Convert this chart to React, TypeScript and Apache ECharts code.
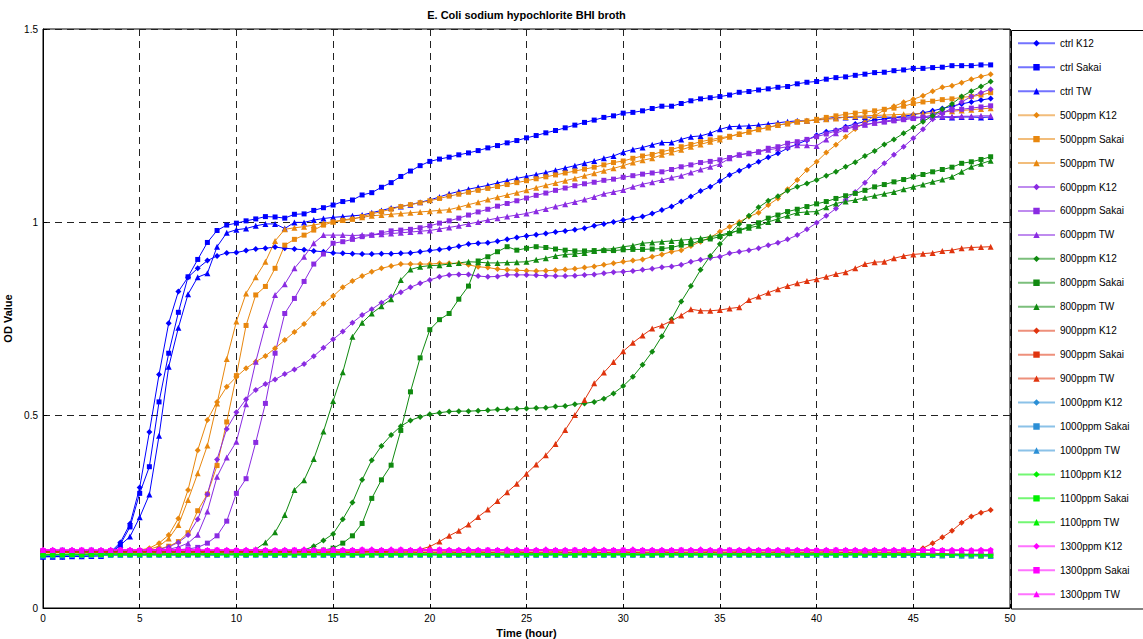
import React, { useEffect, useRef } from 'react';
import * as echarts from 'echarts';

const TIMES = [
  0, 0.5, 1, 1.5, 2, 2.5, 3, 3.5, 4, 4.5,
  5, 5.5, 6, 6.5, 7, 7.5, 8, 8.5, 9, 9.5,
  10, 10.5, 11, 11.5, 12, 12.5, 13, 13.5, 14, 14.5,
  15, 15.5, 16, 16.5, 17, 17.5, 18, 18.5, 19, 19.5,
  20, 20.5, 21, 21.5, 22, 22.5, 23, 23.5, 24, 24.5,
  25, 25.5, 26, 26.5, 27, 27.5, 28, 28.5, 29, 29.5,
  30, 30.5, 31, 31.5, 32, 32.5, 33, 33.5, 34, 34.5,
  35, 35.5, 36, 36.5, 37, 37.5, 38, 38.5, 39, 39.5,
  40, 40.5, 41, 41.5, 42, 42.5, 43, 43.5, 44, 44.5,
  45, 45.5, 46, 46.5, 47, 47.5, 48, 48.5, 49,
];

const CTRL_K12 = [
  0.133, 0.134, 0.133, 0.135, 0.134, 0.135, 0.136, 0.145, 0.17, 0.218,
  0.312, 0.456, 0.605, 0.738, 0.82, 0.857, 0.88, 0.9, 0.912, 0.92,
  0.921, 0.926, 0.93, 0.932, 0.935, 0.932, 0.93, 0.928, 0.925, 0.923,
  0.92, 0.919, 0.918, 0.917, 0.917, 0.918, 0.918, 0.919, 0.92, 0.923,
  0.926, 0.929, 0.932, 0.937, 0.943, 0.945, 0.946, 0.95, 0.955, 0.96,
  0.964, 0.967, 0.97, 0.974, 0.977, 0.98, 0.984, 0.99, 0.995, 1.0,
  1.005, 1.01, 1.014, 1.022, 1.031, 1.04, 1.053, 1.066, 1.08, 1.091,
  1.106, 1.122, 1.133, 1.145, 1.156, 1.168, 1.178, 1.191, 1.202, 1.212,
  1.225, 1.234, 1.238, 1.247, 1.254, 1.26, 1.264, 1.267, 1.27, 1.274,
  1.278, 1.283, 1.288, 1.294, 1.3, 1.306, 1.311, 1.316, 1.32,
];
const CTRL_SAKAI = [
  0.133, 0.133, 0.134, 0.134, 0.135, 0.135, 0.136, 0.142, 0.165, 0.21,
  0.297, 0.366, 0.534, 0.66, 0.766, 0.858, 0.903, 0.947, 0.978, 0.992,
  0.997, 1.003, 1.008, 1.014, 1.013, 1.01, 1.02, 1.021, 1.03, 1.037,
  1.044, 1.053, 1.057, 1.07, 1.076, 1.09, 1.102, 1.118, 1.132, 1.146,
  1.157, 1.163, 1.168, 1.174, 1.179, 1.185, 1.192, 1.198, 1.205, 1.211,
  1.218, 1.224, 1.231, 1.237, 1.244, 1.251, 1.258, 1.264, 1.271, 1.275,
  1.282, 1.284, 1.288, 1.294, 1.3, 1.3, 1.307, 1.314, 1.319, 1.322,
  1.325, 1.329, 1.336, 1.338, 1.342, 1.345, 1.349, 1.351, 1.358, 1.362,
  1.364, 1.37, 1.374, 1.376, 1.38, 1.383, 1.387, 1.388, 1.392, 1.394,
  1.398, 1.398, 1.4, 1.401, 1.405, 1.405, 1.405, 1.407, 1.407,
];
const CTRL_TW = [
  0.133, 0.133, 0.133, 0.134, 0.134, 0.135, 0.135, 0.14, 0.163, 0.185,
  0.235, 0.294, 0.446, 0.625, 0.726, 0.813, 0.857, 0.867, 0.936, 0.972,
  0.98, 0.983, 0.99, 0.995, 0.995, 0.983, 0.999, 0.999, 1.005, 1.009,
  1.012, 1.014, 1.016, 1.018, 1.024, 1.03, 1.036, 1.04, 1.045, 1.051,
  1.057, 1.065, 1.073, 1.079, 1.085, 1.09, 1.095, 1.101, 1.107, 1.113,
  1.118, 1.123, 1.128, 1.134, 1.14, 1.146, 1.152, 1.158, 1.165, 1.171,
  1.181, 1.188, 1.193, 1.2, 1.206, 1.206, 1.214, 1.221, 1.223, 1.23,
  1.24, 1.247, 1.248, 1.249, 1.251, 1.254, 1.257, 1.26, 1.262, 1.262,
  1.264, 1.268, 1.271, 1.271, 1.272, 1.272, 1.271, 1.272, 1.271, 1.272,
  1.272, 1.271, 1.272, 1.272, 1.271, 1.272, 1.272, 1.271, 1.272,
];

const P500_K12 = [
  0.147, 0.147, 0.148, 0.147, 0.148, 0.148, 0.147, 0.148, 0.148, 0.149,
  0.15, 0.155, 0.168, 0.189, 0.232, 0.306, 0.409, 0.487, 0.534, 0.573,
  0.599, 0.621, 0.638, 0.653, 0.673, 0.694, 0.715, 0.736, 0.763, 0.788,
  0.808, 0.831, 0.847, 0.86, 0.871, 0.88, 0.886, 0.891, 0.891, 0.891,
  0.891, 0.893, 0.893, 0.893, 0.889, 0.884, 0.882, 0.878, 0.876, 0.875,
  0.874, 0.873, 0.874, 0.875, 0.877, 0.879, 0.882, 0.885, 0.889, 0.893,
  0.897, 0.9, 0.903, 0.91, 0.916, 0.923, 0.927, 0.938, 0.949, 0.96,
  0.975, 0.988, 1.0, 1.014, 1.024, 1.044, 1.061, 1.085, 1.109, 1.135,
  1.156, 1.18, 1.2, 1.221, 1.241, 1.258, 1.275, 1.29, 1.3, 1.31,
  1.318, 1.327, 1.339, 1.349, 1.353, 1.361, 1.37, 1.377, 1.383,
];
const P500_SAKAI = [
  0.147, 0.146, 0.147, 0.147, 0.146, 0.147, 0.147, 0.146, 0.147, 0.147,
  0.148, 0.15, 0.153, 0.16, 0.172, 0.195, 0.252, 0.295, 0.369, 0.482,
  0.602, 0.732, 0.811, 0.833, 0.88, 0.94, 0.955, 0.966, 0.979, 0.992,
  1.0, 1.004, 1.007, 1.014, 1.021, 1.027, 1.033, 1.04, 1.045, 1.05,
  1.055, 1.061, 1.067, 1.072, 1.077, 1.082, 1.087, 1.092, 1.097, 1.102,
  1.107, 1.112, 1.117, 1.122, 1.127, 1.132, 1.137, 1.142, 1.148, 1.154,
  1.158, 1.165, 1.171, 1.175, 1.182, 1.188, 1.195, 1.201, 1.208, 1.213,
  1.218, 1.222, 1.228, 1.234, 1.24, 1.245, 1.251, 1.255, 1.26, 1.262,
  1.266, 1.271, 1.275, 1.279, 1.282, 1.285, 1.288, 1.292, 1.295, 1.3,
  1.307, 1.311, 1.313, 1.317, 1.319, 1.323, 1.325, 1.329, 1.335,
];
const P500_TW = [
  0.148, 0.148, 0.147, 0.148, 0.148, 0.147, 0.148, 0.148, 0.148, 0.148,
  0.149, 0.152, 0.16, 0.18, 0.215, 0.28, 0.349, 0.421, 0.53, 0.645,
  0.742, 0.815, 0.857, 0.897, 0.951, 0.981, 0.985, 0.988, 0.992, 0.997,
  1.001, 1.005, 1.009, 1.012, 1.016, 1.018, 1.02, 1.022, 1.024, 1.026,
  1.028, 1.03, 1.032, 1.038, 1.045, 1.051, 1.058, 1.064, 1.07, 1.076,
  1.082, 1.089, 1.095, 1.101, 1.107, 1.113, 1.12, 1.126, 1.133, 1.139,
  1.146, 1.154, 1.16, 1.165, 1.174, 1.18, 1.187, 1.195, 1.201, 1.208,
  1.214, 1.221, 1.228, 1.234, 1.24, 1.245, 1.251, 1.255, 1.26, 1.262,
  1.264, 1.266, 1.268, 1.272, 1.274, 1.275, 1.276, 1.277, 1.278, 1.279,
  1.28, 1.281, 1.283, 1.285, 1.287, 1.289, 1.291, 1.293, 1.295,
];

const P600_K12 = [
  0.148, 0.149, 0.148, 0.149, 0.149, 0.148, 0.149, 0.149, 0.148, 0.149,
  0.149, 0.15, 0.152, 0.158, 0.17, 0.189, 0.23, 0.295, 0.385, 0.464,
  0.507, 0.541, 0.565, 0.58, 0.592, 0.606, 0.618, 0.632, 0.652, 0.674,
  0.696, 0.716, 0.739, 0.759, 0.774, 0.791, 0.807, 0.818, 0.831, 0.841,
  0.85, 0.858, 0.863, 0.864, 0.864, 0.86, 0.858, 0.859, 0.863, 0.863,
  0.863, 0.862, 0.861, 0.86, 0.86, 0.861, 0.863, 0.864, 0.867, 0.87,
  0.871, 0.873, 0.876, 0.879, 0.883, 0.885, 0.889, 0.897, 0.902, 0.907,
  0.91, 0.919, 0.923, 0.927, 0.932, 0.94, 0.946, 0.955, 0.966, 0.981,
  0.998, 1.016, 1.035, 1.057, 1.078, 1.102, 1.13, 1.152, 1.174, 1.195,
  1.217, 1.24, 1.266, 1.282, 1.295, 1.311, 1.325, 1.335, 1.344,
];
const P600_SAKAI = [
  0.149, 0.149, 0.15, 0.149, 0.149, 0.15, 0.149, 0.149, 0.15, 0.149,
  0.149, 0.149, 0.15, 0.15, 0.151, 0.153, 0.157, 0.168, 0.187, 0.225,
  0.297, 0.335, 0.429, 0.53, 0.66, 0.763, 0.802, 0.846, 0.891, 0.917,
  0.945, 0.949, 0.955, 0.962, 0.966, 0.972, 0.977, 0.979, 0.981, 0.985,
  0.99, 0.997, 1.003, 1.01, 1.018, 1.026, 1.033, 1.041, 1.048, 1.055,
  1.062, 1.069, 1.075, 1.082, 1.088, 1.094, 1.099, 1.103, 1.108, 1.111,
  1.116, 1.12, 1.124, 1.127, 1.13, 1.136, 1.143, 1.148, 1.154, 1.157,
  1.161, 1.167, 1.174, 1.178, 1.182, 1.191, 1.195, 1.204, 1.208, 1.214,
  1.221, 1.228, 1.236, 1.243, 1.249, 1.252, 1.256, 1.259, 1.262, 1.265,
  1.268, 1.272, 1.277, 1.283, 1.29, 1.292, 1.295, 1.298, 1.301,
];
const P600_TW = [
  0.149, 0.148, 0.149, 0.149, 0.148, 0.149, 0.149, 0.148, 0.149, 0.149,
  0.149, 0.15, 0.15, 0.152, 0.158, 0.168, 0.19, 0.25, 0.34, 0.39,
  0.431, 0.528, 0.638, 0.733, 0.811, 0.839, 0.88, 0.91, 0.945, 0.966,
  0.966, 0.966, 0.965, 0.966, 0.967, 0.968, 0.97, 0.972, 0.974, 0.976,
  0.978, 0.982, 0.986, 0.99, 0.995, 1.0, 1.005, 1.01, 1.014, 1.018,
  1.022, 1.028, 1.034, 1.04, 1.046, 1.052, 1.058, 1.065, 1.073, 1.078,
  1.083, 1.091, 1.098, 1.103, 1.109, 1.115, 1.12, 1.128, 1.136, 1.143,
  1.15, 1.165, 1.174, 1.178, 1.182, 1.187, 1.191, 1.195, 1.199, 1.199,
  1.197, 1.214, 1.23, 1.24, 1.247, 1.252, 1.257, 1.261, 1.265, 1.268,
  1.27, 1.271, 1.272, 1.273, 1.273, 1.274, 1.274, 1.275, 1.275,
];

const P800_K12 = [
  0.145, 0.145, 0.146, 0.145, 0.145, 0.146, 0.145, 0.145, 0.146, 0.145,
  0.145, 0.146, 0.145, 0.145, 0.146, 0.145, 0.146, 0.145, 0.146, 0.146,
  0.146, 0.146, 0.147, 0.146, 0.147, 0.147, 0.148, 0.15, 0.16, 0.175,
  0.192, 0.23, 0.273, 0.332, 0.383, 0.42, 0.448, 0.471, 0.486, 0.495,
  0.502, 0.506, 0.509, 0.51, 0.51, 0.511, 0.512, 0.514, 0.515, 0.516,
  0.517, 0.518, 0.519, 0.522, 0.523, 0.528, 0.53, 0.534, 0.542, 0.556,
  0.575, 0.599, 0.63, 0.664, 0.704, 0.748, 0.794, 0.834, 0.876, 0.912,
  0.943, 0.97, 0.995, 1.016, 1.038, 1.055, 1.067, 1.081, 1.091, 1.1,
  1.109, 1.12, 1.13, 1.143, 1.155, 1.171, 1.184, 1.201, 1.214, 1.23,
  1.245, 1.26, 1.275, 1.292, 1.306, 1.325, 1.339, 1.351, 1.364,
];
const P800_SAKAI = [
  0.145, 0.146, 0.145, 0.145, 0.146, 0.145, 0.145, 0.146, 0.145, 0.145,
  0.146, 0.145, 0.145, 0.146, 0.145, 0.145, 0.146, 0.145, 0.145, 0.146,
  0.145, 0.145, 0.146, 0.146, 0.146, 0.146, 0.146, 0.147, 0.148, 0.15,
  0.155, 0.168, 0.187, 0.219, 0.284, 0.332, 0.37, 0.46, 0.56, 0.648,
  0.721, 0.747, 0.763, 0.8, 0.834, 0.899, 0.91, 0.923, 0.936, 0.927,
  0.932, 0.936, 0.934, 0.93, 0.927, 0.925, 0.925, 0.926, 0.926, 0.926,
  0.928, 0.929, 0.929, 0.93, 0.931, 0.934, 0.94, 0.943, 0.952, 0.956,
  0.962, 0.97, 0.979, 0.988, 0.998, 1.01, 1.018, 1.027, 1.033, 1.04,
  1.047, 1.053, 1.061, 1.068, 1.074, 1.082, 1.091, 1.097, 1.104, 1.11,
  1.117, 1.123, 1.13, 1.136, 1.142, 1.152, 1.156, 1.162, 1.169,
];
const P800_TW = [
  0.145, 0.145, 0.145, 0.146, 0.145, 0.145, 0.145, 0.146, 0.145, 0.145,
  0.145, 0.146, 0.145, 0.145, 0.145, 0.146, 0.145, 0.145, 0.145, 0.146,
  0.146, 0.148, 0.152, 0.17, 0.196, 0.241, 0.306, 0.331, 0.386, 0.457,
  0.536, 0.611, 0.703, 0.739, 0.763, 0.782, 0.8, 0.85, 0.877, 0.884,
  0.887, 0.888, 0.891, 0.894, 0.897, 0.896, 0.894, 0.894, 0.895, 0.896,
  0.897, 0.902, 0.906, 0.912, 0.916, 0.917, 0.92, 0.925, 0.929, 0.931,
  0.936, 0.939, 0.945, 0.947, 0.949, 0.951, 0.953, 0.955, 0.958, 0.962,
  0.966, 0.972, 0.978, 0.985, 0.99, 1.0, 1.008, 1.016, 1.024, 1.026,
  1.027, 1.038, 1.048, 1.053, 1.057, 1.063, 1.068, 1.073, 1.078, 1.085,
  1.091, 1.097, 1.104, 1.11, 1.117, 1.13, 1.143, 1.151, 1.159,
];

const P900_K12 = [
  0.145, 0.145, 0.146, 0.145, 0.145, 0.145, 0.146, 0.145, 0.145, 0.145,
  0.145, 0.146, 0.145, 0.145, 0.145, 0.145, 0.146, 0.145, 0.145, 0.146,
  0.145, 0.145, 0.145, 0.146, 0.145, 0.145, 0.145, 0.146, 0.145, 0.145,
  0.146, 0.145, 0.145, 0.145, 0.146, 0.145, 0.145, 0.145, 0.146, 0.145,
  0.145, 0.145, 0.146, 0.145, 0.145, 0.146, 0.145, 0.145, 0.145, 0.146,
  0.145, 0.145, 0.145, 0.146, 0.145, 0.145, 0.146, 0.145, 0.145, 0.145,
  0.146, 0.145, 0.145, 0.145, 0.146, 0.145, 0.145, 0.145, 0.145, 0.146,
  0.145, 0.145, 0.146, 0.145, 0.145, 0.145, 0.146, 0.145, 0.145, 0.145,
  0.145, 0.146, 0.145, 0.145, 0.145, 0.146, 0.145, 0.145, 0.145, 0.145,
  0.146, 0.155, 0.168, 0.183, 0.2, 0.221, 0.237, 0.247, 0.254,
];
const P900_SAKAI = [
  0.143, 0.143, 0.144, 0.143, 0.143, 0.143, 0.144, 0.143, 0.143, 0.143,
  0.144, 0.143, 0.143, 0.143, 0.144, 0.143, 0.143, 0.144, 0.143, 0.143,
  0.143, 0.144, 0.143, 0.143, 0.143, 0.144, 0.143, 0.143, 0.144, 0.143,
  0.143, 0.143, 0.144, 0.143, 0.143, 0.144, 0.143, 0.143, 0.143, 0.144,
  0.143, 0.143, 0.143, 0.144, 0.143, 0.143, 0.144, 0.143, 0.143, 0.143,
  0.144, 0.143, 0.143, 0.143, 0.144, 0.143, 0.143, 0.143, 0.144, 0.143,
  0.143, 0.144, 0.143, 0.143, 0.143, 0.144, 0.143, 0.143, 0.143, 0.144,
  0.143, 0.143, 0.144, 0.143, 0.143, 0.143, 0.144, 0.143, 0.143, 0.143,
  0.143, 0.143, 0.143, 0.144, 0.143, 0.143, 0.143, 0.143, 0.143, 0.143,
  0.143, 0.142, 0.142, 0.141, 0.14, 0.138, 0.136, 0.135, 0.135,
];
const P900_TW = [
  0.145, 0.145, 0.145, 0.146, 0.145, 0.145, 0.146, 0.145, 0.145, 0.145,
  0.146, 0.145, 0.145, 0.145, 0.146, 0.145, 0.145, 0.146, 0.145, 0.145,
  0.145, 0.146, 0.145, 0.145, 0.145, 0.146, 0.145, 0.145, 0.145, 0.145,
  0.145, 0.145, 0.145, 0.146, 0.146, 0.146, 0.147, 0.148, 0.149, 0.152,
  0.159, 0.172, 0.187, 0.2, 0.216, 0.236, 0.255, 0.277, 0.3, 0.322,
  0.348, 0.372, 0.396, 0.425, 0.461, 0.5, 0.539, 0.582, 0.61, 0.637,
  0.665, 0.687, 0.706, 0.724, 0.732, 0.744, 0.758, 0.774, 0.77, 0.77,
  0.772, 0.776, 0.779, 0.798, 0.807, 0.817, 0.826, 0.834, 0.841, 0.847,
  0.852, 0.858, 0.865, 0.87, 0.88, 0.891, 0.896, 0.897, 0.906, 0.912,
  0.916, 0.918, 0.92, 0.925, 0.927, 0.932, 0.934, 0.935, 0.936,
];

const P1000_K12 = [
  0.136, 0.136, 0.137, 0.137, 0.136, 0.137, 0.137, 0.137, 0.138, 0.137,
  0.137, 0.138, 0.137, 0.138, 0.137, 0.138, 0.138, 0.137, 0.138, 0.138,
  0.138, 0.137, 0.138, 0.138, 0.138, 0.137, 0.138, 0.138, 0.138, 0.138,
  0.138, 0.138, 0.137, 0.138, 0.138, 0.138, 0.138, 0.137, 0.138, 0.138,
  0.138, 0.138, 0.138, 0.137, 0.138, 0.138, 0.138, 0.138, 0.137, 0.138,
  0.138, 0.138, 0.138, 0.138, 0.137, 0.138, 0.138, 0.138, 0.138, 0.138,
  0.137, 0.138, 0.138, 0.138, 0.138, 0.138, 0.137, 0.138, 0.138, 0.138,
  0.138, 0.138, 0.137, 0.138, 0.138, 0.138, 0.138, 0.137, 0.138, 0.138,
  0.138, 0.138, 0.137, 0.138, 0.138, 0.137, 0.138, 0.138, 0.137, 0.137,
  0.137, 0.137, 0.136, 0.137, 0.137, 0.136, 0.136, 0.136, 0.136,
];
const P1000_SAKAI = [
  0.135, 0.136, 0.136, 0.136, 0.137, 0.136, 0.137, 0.137, 0.137, 0.137,
  0.137, 0.137, 0.138, 0.137, 0.137, 0.137, 0.138, 0.137, 0.137, 0.138,
  0.137, 0.137, 0.138, 0.137, 0.137, 0.138, 0.137, 0.137, 0.138, 0.137,
  0.137, 0.138, 0.137, 0.137, 0.138, 0.137, 0.137, 0.137, 0.138, 0.137,
  0.137, 0.138, 0.137, 0.137, 0.137, 0.138, 0.137, 0.137, 0.138, 0.137,
  0.137, 0.137, 0.138, 0.137, 0.137, 0.137, 0.138, 0.137, 0.137, 0.137,
  0.138, 0.137, 0.137, 0.137, 0.138, 0.137, 0.137, 0.137, 0.137, 0.138,
  0.137, 0.137, 0.137, 0.138, 0.137, 0.137, 0.137, 0.137, 0.138, 0.137,
  0.137, 0.137, 0.137, 0.137, 0.138, 0.137, 0.137, 0.137, 0.137, 0.136,
  0.137, 0.136, 0.136, 0.136, 0.136, 0.135, 0.135, 0.135, 0.135,
];
const P1000_TW = [
  0.136, 0.136, 0.136, 0.137, 0.137, 0.137, 0.137, 0.137, 0.137, 0.138,
  0.137, 0.138, 0.138, 0.137, 0.138, 0.138, 0.138, 0.138, 0.137, 0.138,
  0.138, 0.138, 0.138, 0.138, 0.137, 0.138, 0.138, 0.138, 0.138, 0.138,
  0.137, 0.138, 0.138, 0.138, 0.138, 0.137, 0.138, 0.138, 0.138, 0.138,
  0.138, 0.137, 0.138, 0.138, 0.138, 0.138, 0.137, 0.138, 0.138, 0.138,
  0.138, 0.138, 0.137, 0.138, 0.138, 0.138, 0.138, 0.137, 0.138, 0.138,
  0.138, 0.138, 0.138, 0.137, 0.138, 0.138, 0.138, 0.138, 0.137, 0.138,
  0.138, 0.138, 0.138, 0.138, 0.137, 0.138, 0.138, 0.138, 0.138, 0.137,
  0.138, 0.138, 0.138, 0.138, 0.137, 0.138, 0.138, 0.137, 0.138, 0.137,
  0.137, 0.137, 0.137, 0.136, 0.137, 0.136, 0.136, 0.136, 0.135,
];

const P1100_K12 = [
  0.138, 0.138, 0.139, 0.139, 0.139, 0.139, 0.14, 0.139, 0.14, 0.14,
  0.139, 0.14, 0.14, 0.14, 0.139, 0.14, 0.14, 0.14, 0.14, 0.139,
  0.14, 0.14, 0.14, 0.14, 0.14, 0.139, 0.14, 0.14, 0.14, 0.14,
  0.14, 0.14, 0.139, 0.14, 0.14, 0.14, 0.14, 0.14, 0.14, 0.139,
  0.14, 0.14, 0.14, 0.14, 0.14, 0.14, 0.139, 0.14, 0.14, 0.14,
  0.14, 0.14, 0.14, 0.14, 0.139, 0.14, 0.14, 0.14, 0.14, 0.14,
  0.14, 0.139, 0.14, 0.14, 0.14, 0.14, 0.14, 0.14, 0.139, 0.14,
  0.14, 0.14, 0.14, 0.14, 0.14, 0.139, 0.14, 0.14, 0.14, 0.14,
  0.14, 0.14, 0.14, 0.139, 0.14, 0.14, 0.14, 0.14, 0.14, 0.139,
  0.14, 0.139, 0.14, 0.139, 0.139, 0.139, 0.139, 0.139, 0.139,
];
const P1100_SAKAI = [
  0.138, 0.139, 0.139, 0.139, 0.139, 0.14, 0.139, 0.14, 0.14, 0.14,
  0.14, 0.139, 0.14, 0.14, 0.14, 0.14, 0.139, 0.14, 0.14, 0.14,
  0.14, 0.14, 0.139, 0.14, 0.14, 0.14, 0.14, 0.14, 0.139, 0.14,
  0.14, 0.14, 0.14, 0.139, 0.14, 0.14, 0.14, 0.14, 0.14, 0.14,
  0.139, 0.14, 0.14, 0.14, 0.14, 0.14, 0.14, 0.139, 0.14, 0.14,
  0.14, 0.14, 0.14, 0.139, 0.14, 0.14, 0.14, 0.14, 0.14, 0.139,
  0.14, 0.14, 0.14, 0.14, 0.139, 0.14, 0.14, 0.14, 0.14, 0.14,
  0.139, 0.14, 0.14, 0.14, 0.14, 0.14, 0.139, 0.14, 0.14, 0.14,
  0.14, 0.139, 0.14, 0.14, 0.14, 0.14, 0.139, 0.14, 0.14, 0.14,
  0.139, 0.14, 0.139, 0.139, 0.14, 0.139, 0.139, 0.139, 0.138,
];
const P1100_TW = [
  0.139, 0.139, 0.139, 0.14, 0.139, 0.14, 0.14, 0.14, 0.14, 0.14,
  0.14, 0.14, 0.14, 0.139, 0.14, 0.14, 0.14, 0.14, 0.14, 0.14,
  0.139, 0.14, 0.14, 0.14, 0.14, 0.14, 0.14, 0.139, 0.14, 0.14,
  0.14, 0.14, 0.14, 0.14, 0.139, 0.14, 0.14, 0.14, 0.14, 0.14,
  0.14, 0.139, 0.14, 0.14, 0.14, 0.14, 0.14, 0.14, 0.139, 0.14,
  0.14, 0.14, 0.14, 0.14, 0.14, 0.139, 0.14, 0.14, 0.14, 0.14,
  0.14, 0.14, 0.139, 0.14, 0.14, 0.14, 0.14, 0.14, 0.14, 0.139,
  0.14, 0.14, 0.14, 0.14, 0.139, 0.14, 0.14, 0.14, 0.14, 0.14,
  0.14, 0.14, 0.139, 0.14, 0.14, 0.14, 0.14, 0.139, 0.14, 0.14,
  0.14, 0.139, 0.14, 0.139, 0.139, 0.139, 0.139, 0.138, 0.138,
];

const P1300_K12 = [
  0.151, 0.151, 0.15, 0.151, 0.151, 0.151, 0.15, 0.151, 0.151, 0.151,
  0.151, 0.15, 0.151, 0.151, 0.151, 0.151, 0.151, 0.15, 0.151, 0.151,
  0.151, 0.151, 0.151, 0.151, 0.15, 0.151, 0.151, 0.152, 0.151, 0.151,
  0.152, 0.151, 0.151, 0.152, 0.152, 0.151, 0.152, 0.152, 0.151, 0.152,
  0.151, 0.152, 0.151, 0.151, 0.152, 0.151, 0.151, 0.151, 0.152, 0.151,
  0.151, 0.151, 0.152, 0.151, 0.151, 0.151, 0.151, 0.152, 0.151, 0.151,
  0.151, 0.152, 0.151, 0.151, 0.151, 0.151, 0.151, 0.151, 0.152, 0.151,
  0.151, 0.151, 0.151, 0.152, 0.151, 0.151, 0.151, 0.151, 0.151, 0.151,
  0.151, 0.151, 0.151, 0.151, 0.151, 0.151, 0.151, 0.151, 0.151, 0.151,
  0.151, 0.151, 0.151, 0.15, 0.151, 0.151, 0.15, 0.151, 0.151,
];
const P1300_SAKAI = [
  0.149, 0.149, 0.149, 0.149, 0.15, 0.149, 0.149, 0.149, 0.15, 0.149,
  0.149, 0.15, 0.149, 0.149, 0.149, 0.15, 0.149, 0.149, 0.15, 0.149,
  0.149, 0.149, 0.15, 0.149, 0.149, 0.149, 0.15, 0.149, 0.149, 0.149,
  0.15, 0.149, 0.149, 0.15, 0.149, 0.149, 0.149, 0.15, 0.149, 0.149,
  0.149, 0.15, 0.149, 0.149, 0.149, 0.149, 0.15, 0.149, 0.149, 0.149,
  0.15, 0.149, 0.149, 0.149, 0.149, 0.15, 0.149, 0.149, 0.149, 0.149,
  0.15, 0.149, 0.149, 0.149, 0.149, 0.149, 0.15, 0.149, 0.149, 0.149,
  0.149, 0.15, 0.149, 0.149, 0.149, 0.149, 0.149, 0.15, 0.149, 0.149,
  0.149, 0.149, 0.15, 0.149, 0.149, 0.149, 0.149, 0.149, 0.149, 0.15,
  0.149, 0.149, 0.149, 0.149, 0.148, 0.149, 0.148, 0.148, 0.148,
];
const P1300_TW = [
  0.15, 0.15, 0.15, 0.15, 0.149, 0.15, 0.15, 0.15, 0.15, 0.15,
  0.15, 0.15, 0.149, 0.15, 0.15, 0.15, 0.15, 0.15, 0.15, 0.149,
  0.15, 0.15, 0.15, 0.15, 0.15, 0.15, 0.149, 0.15, 0.15, 0.15,
  0.15, 0.15, 0.15, 0.149, 0.15, 0.15, 0.15, 0.15, 0.15, 0.15,
  0.15, 0.149, 0.15, 0.15, 0.15, 0.15, 0.15, 0.15, 0.149, 0.15,
  0.15, 0.15, 0.15, 0.15, 0.149, 0.15, 0.15, 0.15, 0.15, 0.15,
  0.15, 0.15, 0.149, 0.15, 0.15, 0.15, 0.15, 0.15, 0.15, 0.15,
  0.149, 0.15, 0.15, 0.15, 0.15, 0.15, 0.15, 0.149, 0.15, 0.15,
  0.15, 0.15, 0.15, 0.15, 0.15, 0.149, 0.15, 0.15, 0.15, 0.15,
  0.15, 0.15, 0.149, 0.15, 0.149, 0.149, 0.149, 0.149, 0.149,
];

const SERIES_NAMES = [
  'ctrl K12', 'ctrl Sakai', 'ctrl TW',
  '500ppm K12', '500ppm Sakai', '500ppm TW',
  '600ppm K12', '600ppm Sakai', '600ppm TW',
  '800ppm K12', '800ppm Sakai', '800ppm TW',
  '900ppm K12', '900ppm Sakai', '900ppm TW',
  '1000ppm K12', '1000ppm Sakai', '1000ppm TW',
  '1100ppm K12', '1100ppm Sakai', '1100ppm TW',
  '1300ppm K12', '1300ppm Sakai', '1300ppm TW',
];

const SERIES_VALUES = [
  CTRL_K12, CTRL_SAKAI, CTRL_TW,
  P500_K12, P500_SAKAI, P500_TW,
  P600_K12, P600_SAKAI, P600_TW,
  P800_K12, P800_SAKAI, P800_TW,
  P900_K12, P900_SAKAI, P900_TW,
  P1000_K12, P1000_SAKAI, P1000_TW,
  P1100_K12, P1100_SAKAI, P1100_TW,
  P1300_K12, P1300_SAKAI, P1300_TW,
];

const GROUP_COLORS = ['#0000FF', '#E8870E', '#8A2BE2', '#108A10', '#E0340E', '#2B8FD6', '#00F000', '#FF00FF'];
const STRAIN_SYMBOLS = ['diamond', 'rect', 'triangle'];

const X_TICKS = { min: 0, max: 50, interval: 5 };
const Y_TICKS = { min: 0, max: 1.5, interval: 0.5 };

const FONT = "'Liberation Sans', Arial, Helvetica, sans-serif";

export default function App() {
  const ref = useRef<HTMLDivElement>(null);

  useEffect(() => {
    if (!ref.current) return;
    const chart = echarts.init(ref.current, null, { renderer: 'svg' });

    const series = SERIES_NAMES.map((name, i) => {
      const color = GROUP_COLORS[Math.floor(i / 3)];
      const symbol = STRAIN_SYMBOLS[i % 3];
      const vals = SERIES_VALUES[i];
      return {
        name,
        type: 'line',
        data: TIMES.map((t, k) => [t, vals[k]]),
        symbol,
        symbolSize: symbol === 'rect' ? 5 : 6,
        showSymbol: true,
        showAllSymbol: true,
        lineStyle: { color, width: 1 },
        itemStyle: { color, borderWidth: 0 },
        emphasis: { disabled: true },
        silent: true,
        z: 2,
      };
    });

    const axisCommon = {
      axisLine: { show: true, onZero: false, lineStyle: { color: '#000', width: 1 } },
      axisTick: { show: true, inside: true, length: 4, lineStyle: { color: '#000' } },
      axisLabel: { color: '#000', fontSize: 10, fontFamily: FONT, margin: 5 },
      splitLine: { show: true, lineStyle: { color: '#222', width: 1, type: [7, 5] } },
      nameTextStyle: { color: '#000', fontSize: 11, fontWeight: 'bold', fontFamily: FONT },
      nameLocation: 'middle',
    };

    chart.setOption({
      animation: false,
      backgroundColor: '#fff',
      grid: {
        left: 43,
        right: 133,
        top: 29,
        bottom: 31,
        containLabel: false,
        outerBoundsMode: 'none',
        show: true,
        borderColor: '#000',
        borderWidth: 1,
        backgroundColor: 'transparent',
      },
      xAxis: {
        type: 'value',
        ...X_TICKS,
        name: 'Time (hour)',
        nameGap: 17,
        ...axisCommon,
      },
      yAxis: {
        type: 'value',
        ...Y_TICKS,
        name: 'OD Value',
        nameGap: 24,
        ...axisCommon,
      },
      legend: {
        orient: 'vertical',
        left: 1011,
        top: 30,
        padding: [8.3, 4, 10, 6],
        itemWidth: 37,
        itemHeight: 8,
        itemGap: 13.95,
        z: 10,
        textStyle: { color: '#000', fontSize: 10, fontFamily: FONT },
        lineStyle: { width: 2, opacity: 0.55 },
        selectedMode: false,
        data: SERIES_NAMES,
      },
      graphic: [
        {
          type: 'rect',
          z: 1,
          silent: true,
          shape: { x: 1011.5, y: 30.5, width: 150, height: 578.5 },
          style: { fill: '#fff', stroke: '#000', lineWidth: 1 },
        },
        {
          type: 'text',
          x: 526.5,
          y: 15,
          style: {
            text: 'E. Coli sodium hypochlorite BHI broth',
            font: `bold 11px ${FONT}`,
            fill: '#000',
            align: 'center',
            verticalAlign: 'middle',
          },
        },
      ],
      series,
    });

    return () => chart.dispose();
  }, []);

  return (
    <div
      ref={ref}
      style={{ position: 'absolute', left: 0, top: 0, width: 1143, height: 639, background: '#fff' }}
    />
  );
}
